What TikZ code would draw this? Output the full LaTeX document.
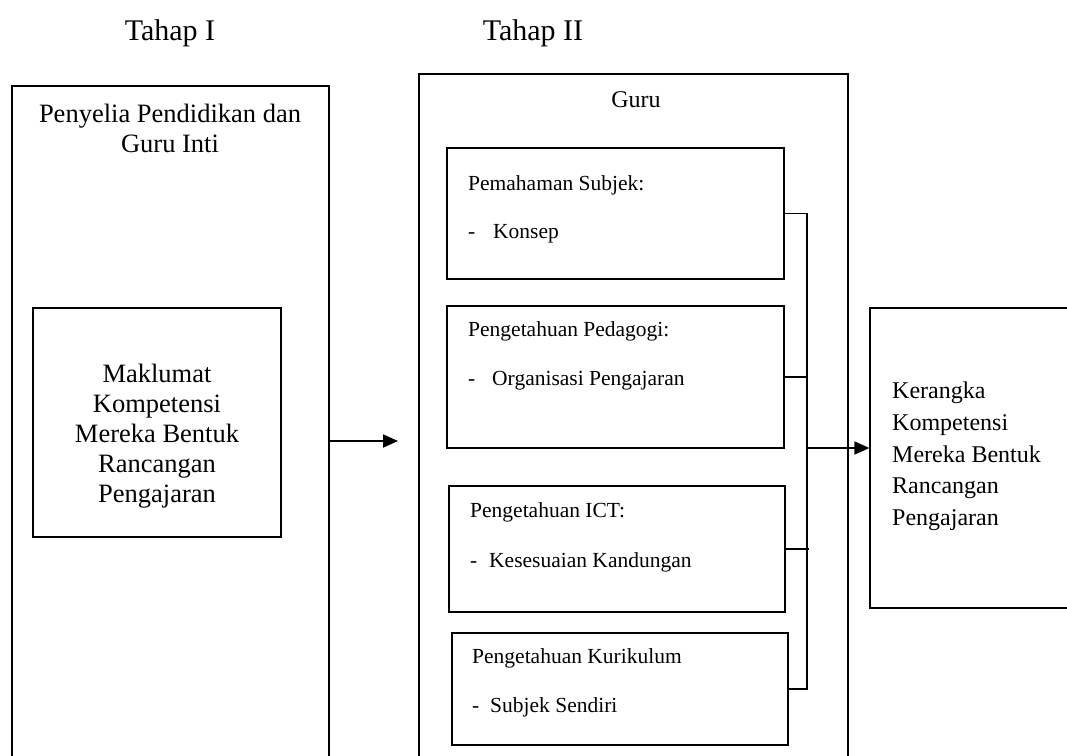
\documentclass[tikz,border=0pt]{standalone}
\usepackage{fontspec}
\setmainfont{Liberation Serif}
\usetikzlibrary{arrows.meta}
\begin{document}
\begin{tikzpicture}[x=1pt,y=-1pt,
  box/.style={draw, line width=1.2pt, inner sep=0pt, minimum width=#1},
  head/.style={font=\fontsize{30}{36}\selectfont, inner sep=0pt, anchor=base},
  mid/.style={font=\fontsize{26.5}{30}\selectfont, inner sep=0pt, anchor=base},
  big/.style={font=\fontsize{24}{30}\selectfont, inner sep=0pt},
  small/.style={font=\fontsize{21.5}{26}\selectfont, inner sep=0pt, anchor=base west},
  link/.style={line width=1.5pt},
  arr/.style={line width=1.8pt, -{Triangle[length=15pt,width=13pt]}}]
\useasboundingbox (0,0) rectangle (1067,755);
\clip (0,0) rectangle (1067,755);
% headings
\node[head] (t1) at (170,40) {Tahap I};
\node[head] (t2) at (533,40) {Tahap II};
% big boxes
\node[box=317pt, minimum height=714pt] (left) at (170.5,443) {};
\node[box=429pt, minimum height=726pt] (mid) at (633.5,437) {};
\node[box=230pt, minimum height=300pt] (right) at (985,458) {};
\node[box=248pt, minimum height=229pt] (inl) at (157,422.5) {};
% inner boxes
\node[box=337pt, minimum height=131pt] (b1) at (615.5,213.5) {};
\node[box=337pt, minimum height=142pt] (b2) at (615.5,377) {};
\node[box=336pt, minimum height=126pt] (b3) at (617,549) {};
\node[box=336pt, minimum height=112pt] (b4) at (620,689) {};
% texts left
\node[mid] (lt1) at (170,122) {Penyelia Pendidikan dan};
\node[mid] (lt2) at (170,152) {Guru Inti};
\node[mid] (m1) at (157,382) {Maklumat};
\node[mid] (m2) at (157,412) {Kompetensi};
\node[mid] (m3) at (157,442) {Mereka Bentuk};
\node[mid] (m4) at (157,472) {Rancangan};
\node[mid] (m5) at (157,502) {Pengajaran};
% texts middle
\node[big, anchor=base] (guru) at (636,107) {Guru};
\node[small] (p1a) at (468,190) {Pemahaman Subjek:};
\node[small] (p1b) at (468,238) {\makebox[25pt][l]{-}Konsep};
\node[small] (p2a) at (468,336) {Pengetahuan Pedagogi:};
\node[small] (p2b) at (468,385) {\makebox[24pt][l]{-}Organisasi Pengajaran};
\node[small] (p3a) at (470,517) {Pengetahuan ICT:};
\node[small] (p3b) at (470,567) {\makebox[19pt][l]{-}Kesesuaian Kandungan};
\node[small] (p4a) at (472,663) {Pengetahuan Kurikulum};
\node[small] (p4b) at (472,712) {\makebox[18pt][l]{-}Subjek Sendiri};
% texts right
\node[big, anchor=base west] (r1) at (892,398) {Kerangka};
\node[big, anchor=base west] (r2) at (892,430) {Kompetensi};
\node[big, anchor=base west] (r3) at (892,462) {Mereka Bentuk};
\node[big, anchor=base west] (r4) at (892,493) {Rancangan};
\node[big, anchor=base west] (r5) at (892,525) {Pengajaran};
% connectors
\coordinate (k1) at (807,213.5);
\coordinate (k2) at (807,377);
\coordinate (k3) at (809,549);
\coordinate (k4) at (807,689);
\coordinate (ka) at (807,448);
\draw[link] (b1.east) -- (k1) -- (k4) -- (b4.east);
\draw[link] (b2.east) -- (k2);
\draw[link] (b3.east) -- (k3);
\draw[arr] (ka) -- (ka -| right.west);
\coordinate (a1s) at (329,441);
\coordinate (a1e) at (398,441);
\draw[arr] (a1s) -- (a1e);
\end{tikzpicture}
\end{document}
